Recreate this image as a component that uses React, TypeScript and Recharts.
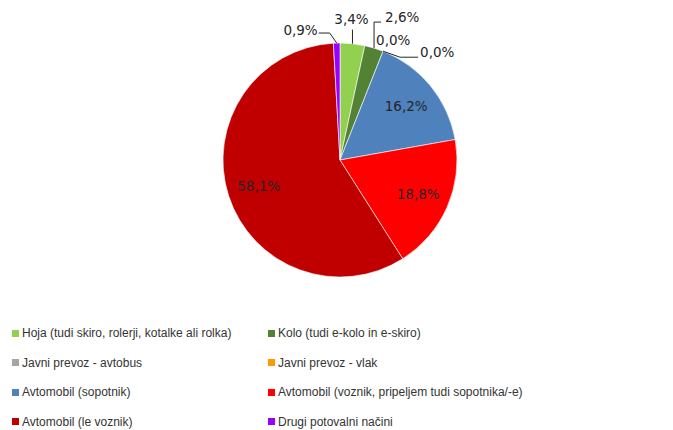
import { Cell, Pie, PieChart } from "recharts";

const CATEGORIES = [
  "Hoja (tudi skiro, rolerji, kotalke ali rolka)",
  "Kolo (tudi e-kolo in e-skiro)",
  "Javni prevoz - avtobus",
  "Javni prevoz - vlak",
  "Avtomobil (sopotnik)",
  "Avtomobil (voznik, pripeljem tudi sopotnika/-e)",
  "Avtomobil (le voznik)",
  "Drugi potovalni načini",
];
const SHARES = [3.4, 2.6, 0.0, 0.0, 16.2, 18.8, 58.1, 0.9];
const COLORS = [
  "#92d050",
  "#548235",
  "#a5a5a5",
  "#ff9900",
  "#4f81bd",
  "#ff0000",
  "#c00000",
  "#9900ff",
];

const data = CATEGORIES.map((name, i) => ({ name, value: SHARES[i] }));

const RAD = Math.PI / 180;
const FONT = "'DejaVu Sans', sans-serif";

// outside labels: text offset + leader points, relative to the slice's outer mid point
const OUTSIDE: Record<number, { tx: number; ty: number; anchor: string; line: number[][] }> = {
  0: { tx: -1, ty: -25, anchor: "middle", line: [[0, -14]] },
  1: { tx: 11, ty: -31, anchor: "start", line: [[0, -26], [7, -26]] },
  2: { tx: -7, ty: -11, anchor: "start", line: [] },
  3: { tx: 37, ty: 1, anchor: "start", line: [[17, 6], [35, 6]] },
  7: { tx: -19, ty: -13, anchor: "end", line: [[-7, -10], [-18, -10]] },
};

const fmt = (v: number) => `${v.toFixed(1).replace(".", ",")}%`;

function renderLabel(props: any) {
  const { cx, cy, midAngle, outerRadius, index } = props;
  const v = SHARES[index];
  const cos = Math.cos(-midAngle * RAD);
  const sin = Math.sin(-midAngle * RAD);
  const o = OUTSIDE[index];
  if (!o) {
    const r = outerRadius * 0.73;
    return (
      <text
        x={cx + r * cos}
        y={cy + r * sin}
        textAnchor="middle"
        dominantBaseline="central"
        fontSize={13.5}
        fontFamily={FONT}
        fill="#262626"
      >
        {fmt(v)}
      </text>
    );
  }
  const px = cx + outerRadius * cos;
  const py = cy + outerRadius * sin;
  const pts = [[0, 0], ...o.line].map(([dx, dy]) => `${px + dx},${py + dy}`).join(" ");
  return (
    <g>
      {o.line.length > 0 && <polyline points={pts} fill="none" stroke="#262626" strokeWidth={1} />}
      <text
        x={px + o.tx}
        y={py + o.ty}
        textAnchor={o.anchor as any}
        dominantBaseline="central"
        fontSize={13.5}
        fontFamily={FONT}
        fill="#262626"
      >
        {fmt(v)}
      </text>
    </g>
  );
}

export default function App() {
  return (
    <div style={{ position: "absolute", left: 0, top: 0, width: 673, height: 430, background: "#fff" }}>
      <PieChart width={673} height={300} margin={{ top: 0, right: 0, bottom: 0, left: 0 }}>
        <Pie
          data={data}
          dataKey="value"
          nameKey="name"
          cx={340}
          cy={160}
          outerRadius={117}
          startAngle={90}
          endAngle={-270}
          stroke="#fff"
          strokeWidth={0.6}
          label={renderLabel}
          labelLine={false}
          isAnimationActive={false}
        >
          {data.map((d, i) => (
            <Cell key={d.name} fill={COLORS[i]} />
          ))}
        </Pie>
      </PieChart>
      <div
        style={{
          position: "absolute",
          left: 12,
          top: 324,
          display: "grid",
          gridTemplateColumns: "256px 400px",
          rowGap: 11.5,
          fontFamily: "'Liberation Sans', sans-serif",
          fontSize: 12,
          color: "#333",
        }}
      >
        {CATEGORIES.map((name, i) => (
          <div key={name} style={{ display: "flex", alignItems: "center", height: 18, whiteSpace: "nowrap" }}>
            <span style={{ width: 7, height: 7, background: COLORS[i], marginRight: 3, flexShrink: 0 }} />
            {name}
          </div>
        ))}
      </div>
    </div>
  );
}
